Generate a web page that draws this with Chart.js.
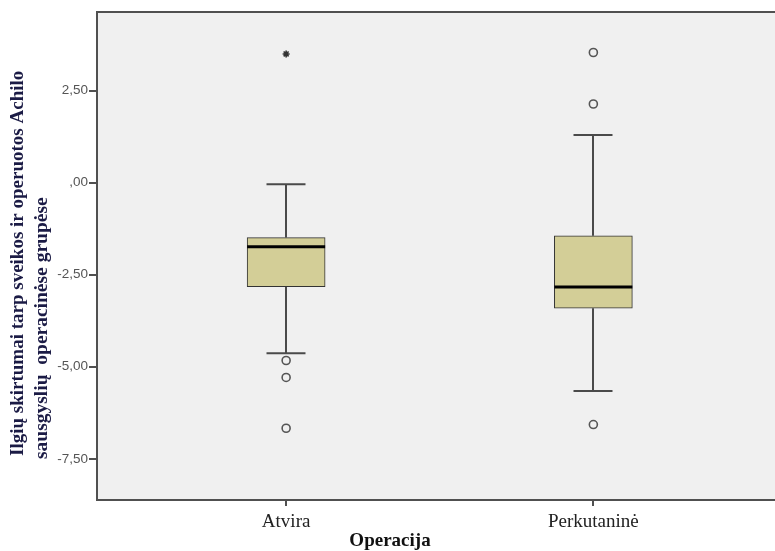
<!DOCTYPE html>
<html><head><meta charset="utf-8">
<script src="https://cdn.jsdelivr.net/npm/chart.js@4/dist/chart.umd.min.js"></script>
<style>html,body{margin:0;background:#fff}#c{display:block}</style>
</head><body>
<canvas id="c" width="775" height="551"></canvas>
<script>
// Group labels and their positions on the horizontal axis
const categories = ['Atvira', 'Perkutaninė'];
const categoryPos = [1, 2];

// Box-plot summary per group
const q1 = [-2.82, -3.41];
const median = [-1.74, -2.83];
const q3 = [-1.49, -1.44];
const whiskerLow = [-4.63, -5.66];
const whiskerHigh = [-0.04, 1.30];

// Outliers (circles) and extreme values (stars)
const outliersAtvira = [-4.83, -5.29, -6.67];
const outliersPerkutanine = [3.54, 2.14, -6.57];
const extremesAtvira = [3.50];

// Axis ticks and titles
const yTickValues = [-7.5, -5, -2.5, 0, 2.5];
const yTickLabels = ['-7,50', '-5,00', '-2,50', ',00', '2,50'];
const yTitleLines = ['Ilgių skirtumai tarp sveikos ir operuotos Achilo', 'sausgyslių  operacinėse grupėse'];
const xTitle = 'Operacija';

const FRAME = '#505050';
const SERIF = '"Liberation Serif", "Times New Roman", serif';

const boxDecor = {
  id: 'boxDecor',
  beforeDraw(chart) {
    const { ctx, chartArea: a } = chart;
    ctx.save();
    ctx.fillStyle = '#f0f0f0';
    ctx.fillRect(a.left, a.top, chart.width - a.left, a.bottom - a.top);
    ctx.restore();
  },
  beforeDatasetsDraw(chart) {
    const { ctx } = chart;
    const xs = chart.scales.x, ys = chart.scales.y;
    ctx.save();
    ctx.strokeStyle = '#4a4a4a';
    ctx.lineWidth = 2;
    const seg = (x1, y1, x2, y2) => { ctx.beginPath(); ctx.moveTo(x1, y1); ctx.lineTo(x2, y2); ctx.stroke(); };
    categoryPos.forEach((p, i) => {
      const px = Math.round(xs.getPixelForValue(p));
      const capHalf = 19.5;
      const yHi = ys.getPixelForValue(whiskerHigh[i]);
      const yQ3 = ys.getPixelForValue(q3[i]);
      const yQ1 = ys.getPixelForValue(q1[i]);
      const yLo = ys.getPixelForValue(whiskerLow[i]);
      seg(px, yHi, px, yQ3);
      seg(px, yQ1, px, yLo);
      seg(px - capHalf, yHi, px + capHalf, yHi);
      seg(px - capHalf, yLo, px + capHalf, yLo);
    });
    ctx.restore();
  },
  afterDatasetsDraw(chart) {
    const { ctx } = chart;
    const ys = chart.scales.y;
    const meta = chart.getDatasetMeta(0);
    ctx.save();
    ctx.strokeStyle = '#000';
    ctx.lineWidth = 3;
    categoryPos.forEach((p, i) => {
      const bar = meta.data[i];
      const half = bar.width / 2;
      const y = ys.getPixelForValue(median[i]);
      ctx.beginPath();
      ctx.moveTo(bar.x - half, y);
      ctx.lineTo(bar.x + half, y);
      ctx.stroke();
    });
    ctx.restore();
  },
  afterDraw(chart) {
    const { ctx, chartArea: a } = chart;
    ctx.save();
    // frame: left, top, bottom (runs to the canvas edge on the right)
    ctx.strokeStyle = FRAME;
    ctx.lineWidth = 2;
    ctx.beginPath();
    ctx.moveTo(chart.width, a.top);
    ctx.lineTo(a.left, a.top);
    ctx.lineTo(a.left, a.bottom);
    ctx.lineTo(chart.width, a.bottom);
    ctx.stroke();

    // vertical axis title, two lines starting from the bottom
    ctx.fillStyle = '#1b1b45';
    ctx.textAlign = 'left';
    ctx.textBaseline = 'middle';
    const starts = [[18, 456, 19], [42, 459, 19.5]];
    yTitleLines.forEach((line, i) => {
      ctx.save();
      ctx.font = 'bold ' + starts[i][2] + 'px ' + SERIF;
      ctx.translate(starts[i][0], starts[i][1]);
      ctx.rotate(-Math.PI / 2);
      ctx.fillText(line, 0, 0);
      ctx.restore();
    });

    // horizontal axis title
    ctx.fillStyle = '#111';
    ctx.font = 'bold 19px ' + SERIF;
    ctx.textAlign = 'center';
    ctx.fillText(xTitle, 390, 541);
    ctx.restore();
  }
};

new Chart(document.getElementById('c'), {
  type: 'bar',
  data: {
    datasets: [
      {
        label: 'box',
        data: categoryPos.map((p, i) => ({ x: p, y: [q1[i], q3[i]] })),
        backgroundColor: '#d3ce97',
        borderColor: '#333',
        borderWidth: 1,
        borderSkipped: false,
        barThickness: 78,
        order: 3
      },
      {
        type: 'scatter',
        label: 'outliers',
        data: outliersAtvira.map(v => ({ x: categoryPos[0], y: v }))
          .concat(outliersPerkutanine.map(v => ({ x: categoryPos[1], y: v }))),
        pointStyle: 'circle',
        pointRadius: 4,
        borderColor: '#555',
        borderWidth: 1.6,
        backgroundColor: 'rgba(0,0,0,0)',
        order: 1
      },
      {
        type: 'scatter',
        label: 'extremes',
        data: extremesAtvira.map(v => ({ x: categoryPos[0], y: v })),
        pointStyle: 'star',
        pointRadius: 3.5,
        borderColor: '#333',
        borderWidth: 1.6,
        order: 1
      }
    ]
  },
  options: {
    responsive: false,
    animation: false,
    layout: { padding: { top: 12, left: 0, right: 0, bottom: 0 } },
    plugins: { legend: { display: false }, tooltip: { enabled: false } },
    scales: {
      x: {
        type: 'linear',
        offset: false,
        min: 0.3844,
        max: 2.573,
        afterBuildTicks(scale) { scale.ticks = categoryPos.map(v => ({ value: v })); },
        afterFit(scale) { scale.height = 51; },
        ticks: {
          callback: v => categories[categoryPos.indexOf(v)] ?? '',
          color: '#222',
          font: { family: SERIF, size: 19 },
          padding: 5,
          maxRotation: 0
        },
        grid: { offset: false, drawOnChartArea: false, drawTicks: true, tickLength: 6, color: FRAME, lineWidth: 2 },
        border: { display: false }
      },
      y: {
        type: 'linear',
        min: -8.62,
        max: 4.64,
        afterBuildTicks(scale) { scale.ticks = yTickValues.map(v => ({ value: v })); },
        afterFit(scale) { scale.width = 97; },
        ticks: {
          callback: v => yTickLabels[yTickValues.indexOf(v)] ?? '',
          color: '#555',
          font: { family: '"Liberation Sans", Arial, sans-serif', size: 13.5 },
          padding: 1
        },
        grid: { drawOnChartArea: false, drawTicks: true, tickLength: 8, color: FRAME, lineWidth: 2 },
        border: { display: false }
      }
    }
  },
  plugins: [boxDecor]
});
</script>
</body></html>
